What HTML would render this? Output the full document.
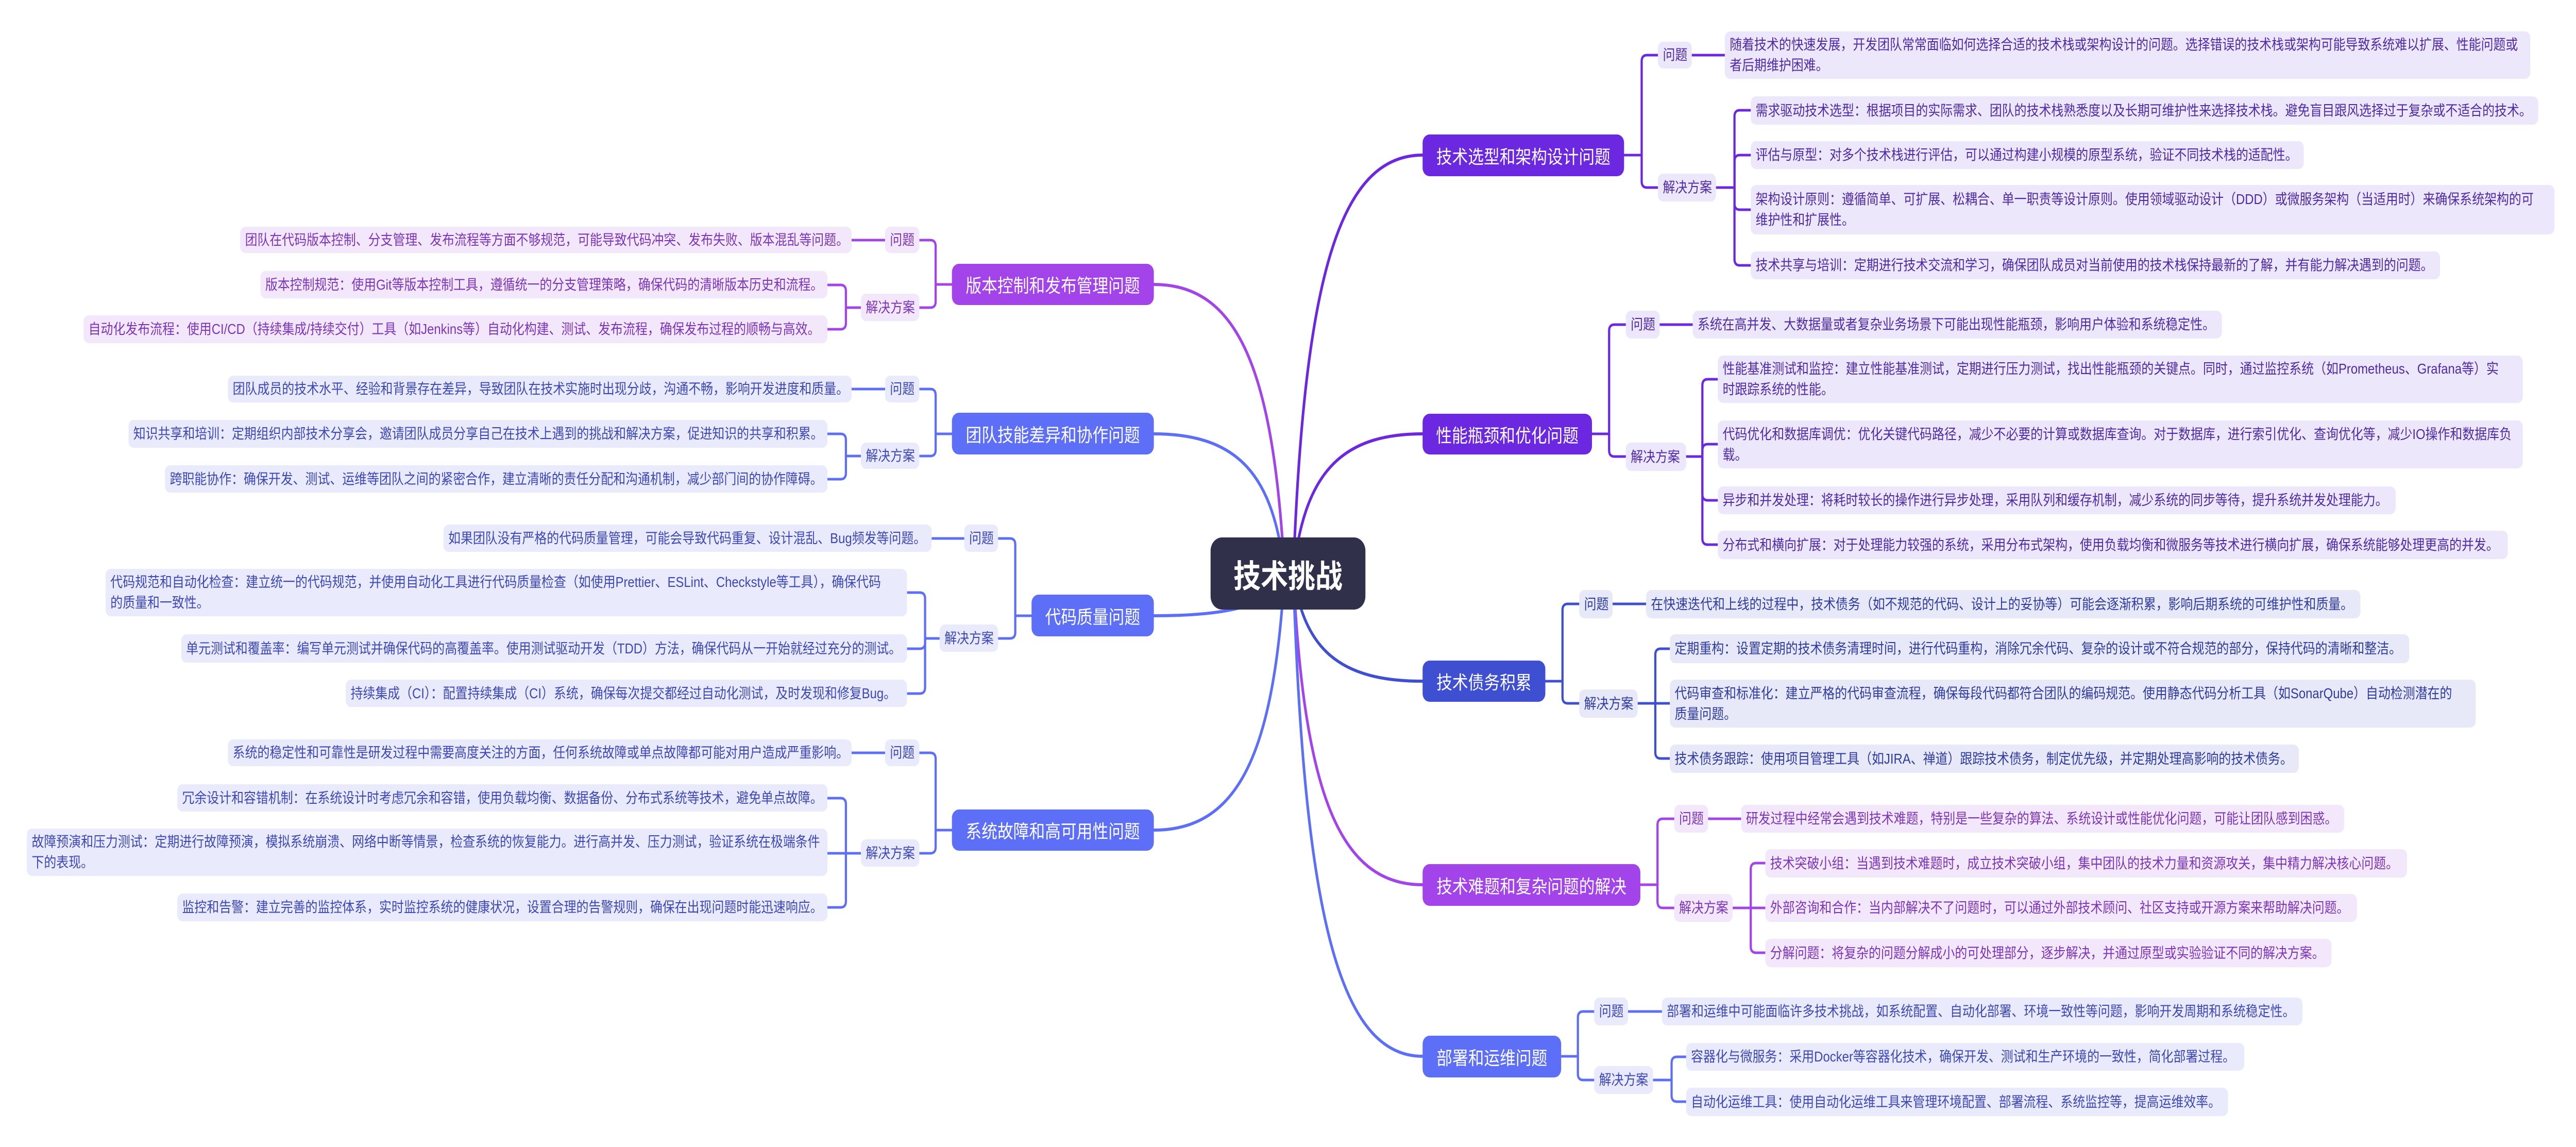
<!DOCTYPE html>
<html><head><meta charset="utf-8">
<style>
html,body{margin:0;padding:0;background:#fff;overflow:hidden;}
#w{position:absolute;left:0;top:0;width:5856px;height:2226px;transform-origin:0 0;font-family:"Liberation Sans","Noto Sans CJK SC",sans-serif;}
svg{position:absolute;left:0;top:0;}
.b{position:absolute;box-sizing:border-box;border-radius:12px;padding:0 11px;display:flex;align-items:center;white-space:nowrap;font-size:28px;line-height:40px;overflow:hidden;}
.n{position:absolute;box-sizing:border-box;border-radius:16px;display:flex;align-items:center;justify-content:center;white-space:nowrap;color:#fff;font-size:36px;}
.p{background:#ede7fc;color:#4f2aa6;}
.v{background:#f3e7fc;color:#7b35b8;}
.u{background:#e9ebfd;color:#3d47b5;}
.i{background:#e8e9f8;color:#2f3ba0;}
</style></head><body>
<div id="w">
<svg width="5856" height="2226" fill="none" stroke-linecap="round" stroke-linejoin="round">
<g stroke-width="6">
<path d="M2940 1113 C2964 544 3043 301 3234 301" stroke="#6b28e0"/>
<path d="M2940 1113 C2964 923 3043 842 3234 842" stroke="#6b28e0"/>
<path d="M2940 1113 C2964 1259 3043 1322 3234 1322" stroke="#3f4fd1"/>
<path d="M2940 1113 C2964 1536 3043 1717 3234 1717" stroke="#a244ea"/>
<path d="M2940 1113 C2964 1769 3043 2050 3234 2050" stroke="#5d6ff7"/>
<path d="M2920 1113 C2896 720 2816 552 2623 552" stroke="#a244ea"/>
<path d="M2920 1113 C2896 923 2816 842 2623 842" stroke="#5d6ff7"/>
<path d="M2920 1113 C2896 1170 2816 1195 2623 1195" stroke="#5d6ff7"/>
<path d="M2920 1113 C2896 1462 2816 1611 2623 1611" stroke="#5d6ff7"/>
</g>
<g stroke-width="5">
<g stroke="#6b28e0">
<path d="M3692 301 H3732 V119 Q3732 107 3744 107 H3769"/>
<path d="M3692 301 H3732 V352 Q3732 364 3744 364 H3769"/>
<path d="M3846 107 H3921"/>
<path d="M3901 364 H3943 V226 Q3943 214 3955 214 H3980"/>
<path d="M3901 364 H3943 V313 Q3943 301 3955 301 H3980"/>
<path d="M3901 364 H3943 V395 Q3943 407 3955 407 H3980"/>
<path d="M3901 364 H3943 V503 Q3943 515 3955 515 H3980"/>
</g>
<g stroke="#6b28e0">
<path d="M3619 842 H3658 V642 Q3658 630 3670 630 H3696"/>
<path d="M3619 842 H3658 V874 Q3658 886 3670 886 H3696"/>
<path d="M3773 630 H3848"/>
<path d="M3833 886 H3870 V748 Q3870 736 3882 736 H3905"/>
<path d="M3833 886 H3870 V874 Q3870 862 3882 862 H3905"/>
<path d="M3833 886 H3870 V959 Q3870 971 3882 971 H3905"/>
<path d="M3833 886 H3870 V1045 Q3870 1057 3882 1057 H3905"/>
</g>
<g stroke="#3f4fd1">
<path d="M3513 1322 H3552 V1184 Q3552 1172 3564 1172 H3590"/>
<path d="M3513 1322 H3552 V1353 Q3552 1365 3564 1365 H3590"/>
<path d="M3666 1172 H3742"/>
<path d="M3723 1365 H3763 V1271 Q3763 1259 3775 1259 H3796"/>
<path d="M3723 1365 H3796"/>
<path d="M3723 1365 H3763 V1460 Q3763 1472 3775 1472 H3796"/>
</g>
<g stroke="#a244ea">
<path d="M3729 1717 H3768 V1601 Q3768 1589 3780 1589 H3806"/>
<path d="M3729 1717 H3768 V1750 Q3768 1762 3780 1762 H3806"/>
<path d="M3883 1589 H3958"/>
<path d="M3939 1762 H3980 V1687 Q3980 1675 3992 1675 H4013"/>
<path d="M3939 1762 H4013"/>
<path d="M3939 1762 H3980 V1837 Q3980 1849 3992 1849 H4013"/>
</g>
<g stroke="#5d6ff7">
<path d="M3549 2050 H3587 V1975 Q3587 1963 3599 1963 H3624"/>
<path d="M3549 2050 H3587 V2084 Q3587 2096 3599 2096 H3624"/>
<path d="M3701 1963 H3778"/>
<path d="M3758 2096 H3800 V2063 Q3800 2051 3812 2051 H3833"/>
<path d="M3758 2096 H3800 V2126 Q3800 2138 3812 2138 H3833"/>
</g>
<g stroke="#a244ea">
<path d="M2164 552 H2127 V478 Q2127 466 2115 466 H2090"/>
<path d="M2164 552 H2127 V585 Q2127 597 2115 597 H2090"/>
<path d="M2012 466 H1936"/>
<path d="M1957 597 H1923 V565 Q1923 553 1911 553 H1881"/>
<path d="M1957 597 H1923 V627 Q1923 639 1911 639 H1881"/>
</g>
<g stroke="#5d6ff7">
<path d="M2164 842 H2127 V767 Q2127 755 2115 755 H2090"/>
<path d="M2164 842 H2127 V873 Q2127 885 2115 885 H2090"/>
<path d="M2012 755 H1936"/>
<path d="M1957 885 H1923 V854 Q1923 842 1911 842 H1881"/>
<path d="M1957 885 H1923 V918 Q1923 930 1911 930 H1881"/>
</g>
<g stroke="#5d6ff7">
<path d="M2345 1195 H2308 V1057 Q2308 1045 2296 1045 H2269"/>
<path d="M2345 1195 H2308 V1227 Q2308 1239 2296 1239 H2269"/>
<path d="M2192 1045 H2118"/>
<path d="M2136 1239 H2103 V1162 Q2103 1150 2091 1150 H2062"/>
<path d="M2136 1239 H2103 V1247 Q2103 1259 2091 1259 H2062"/>
<path d="M2136 1239 H2103 V1334 Q2103 1346 2091 1346 H2062"/>
</g>
<g stroke="#5d6ff7">
<path d="M2164 1611 H2127 V1473 Q2127 1461 2115 1461 H2090"/>
<path d="M2164 1611 H2127 V1644 Q2127 1656 2115 1656 H2090"/>
<path d="M2012 1461 H1936"/>
<path d="M1957 1656 H1923 V1561 Q1923 1549 1911 1549 H1881"/>
<path d="M1957 1656 H1881"/>
<path d="M1957 1656 H1923 V1749 Q1923 1761 1911 1761 H1881"/>
</g>
</g>
</svg>

<div class="n" style="left:2752px;top:1043px;width:352px;height:140px;background:#30304a;border-radius:26px;font-size:62px;font-weight:bold;">技术挑战</div>

<div class="n" style="left:3234px;top:261px;width:458px;height:81px;background:#6b28e0;">技术选型和架构设计问题</div>
<div class="b p" style="left:3769px;top:81px;width:77px;height:52px;">问题</div>
<div class="b p" style="left:3921px;top:61px;width:1831px;height:92px;">随着技术的快速发展，开发团队常常面临如何选择合适的技术栈或架构设计的问题。选择错误的技术栈或架构可能导致系统难以扩展、性能问题或<br>者后期维护困难。</div>
<div class="b p" style="left:3769px;top:337px;width:132px;height:54px;">解决方案</div>
<div class="b p" style="left:3980px;top:187px;width:1790px;height:55px;">需求驱动技术选型：根据项目的实际需求、团队的技术栈熟悉度以及长期可维护性来选择技术栈。避免盲目跟风选择过于复杂或不适合的技术。</div>
<div class="b p" style="left:3980px;top:274px;width:1257px;height:54px;">评估与原型：对多个技术栈进行评估，可以通过构建小规模的原型系统，验证不同技术栈的适配性。</div>
<div class="b p" style="left:3980px;top:359px;width:1827px;height:96px;">架构设计原则：遵循简单、可扩展、松耦合、单一职责等设计原则。使用领域驱动设计（DDD）或微服务架构（当适用时）来确保系统架构的可<br>维护性和扩展性。</div>
<div class="b p" style="left:3980px;top:488px;width:1567px;height:54px;">技术共享与培训：定期进行技术交流和学习，确保团队成员对当前使用的技术栈保持最新的了解，并有能力解决遇到的问题。</div>

<div class="n" style="left:3234px;top:803px;width:385px;height:79px;background:#6b28e0;">性能瓶颈和优化问题</div>
<div class="b p" style="left:3696px;top:603px;width:77px;height:54px;">问题</div>
<div class="b p" style="left:3848px;top:603px;width:1203px;height:54px;">系统在高并发、大数据量或者复杂业务场景下可能出现性能瓶颈，影响用户体验和系统稳定性。</div>
<div class="b p" style="left:3696px;top:859px;width:137px;height:55px;">解决方案</div>
<div class="b p" style="left:3905px;top:690px;width:1830px;height:92px;">性能基准测试和监控：建立性能基准测试，定期进行压力测试，找出性能瓶颈的关键点。同时，通过监控系统（如Prometheus、Grafana等）实<br>时跟踪系统的性能。</div>
<div class="b p" style="left:3905px;top:816px;width:1830px;height:93px;">代码优化和数据库调优：优化关键代码路径，减少不必要的计算或数据库查询。对于数据库，进行索引优化、查询优化等，减少IO操作和数据库负<br>载。</div>
<div class="b p" style="left:3905px;top:944px;width:1541px;height:54px;">异步和并发处理：将耗时较长的操作进行异步处理，采用队列和缓存机制，减少系统的同步等待，提升系统并发处理能力。</div>
<div class="b p" style="left:3905px;top:1030px;width:1796px;height:55px;">分布式和横向扩展：对于处理能力较强的系统，采用分布式架构，使用负载均衡和微服务等技术进行横向扩展，确保系统能够处理更高的并发。</div>

<div class="n" style="left:3234px;top:1282px;width:279px;height:80px;background:#3f4fd1;">技术债务积累</div>
<div class="b i" style="left:3590px;top:1145px;width:76px;height:55px;">问题</div>
<div class="b i" style="left:3742px;top:1145px;width:1624px;height:55px;">在快速迭代和上线的过程中，技术债务（如不规范的代码、设计上的妥协等）可能会逐渐积累，影响后期系统的可维护性和质量。</div>
<div class="b i" style="left:3590px;top:1338px;width:133px;height:55px;">解决方案</div>
<div class="b i" style="left:3796px;top:1231px;width:1681px;height:56px;">定期重构：设置定期的技术债务清理时间，进行代码重构，消除冗余代码、复杂的设计或不符合规范的部分，保持代码的清晰和整洁。</div>
<div class="b i" style="left:3796px;top:1319px;width:1832px;height:93px;">代码审查和标准化：建立严格的代码审查流程，确保每段代码都符合团队的编码规范。使用静态代码分析工具（如SonarQube）自动检测潜在的<br>质量问题。</div>
<div class="b i" style="left:3796px;top:1445px;width:1430px;height:55px;">技术债务跟踪：使用项目管理工具（如JIRA、禅道）跟踪技术债务，制定优先级，并定期处理高影响的技术债务。</div>

<div class="n" style="left:3234px;top:1677px;width:495px;height:81px;background:#a244ea;">技术难题和复杂问题的解决</div>
<div class="b v" style="left:3806px;top:1562px;width:77px;height:54px;">问题</div>
<div class="b v" style="left:3958px;top:1562px;width:1371px;height:54px;">研发过程中经常会遇到技术难题，特别是一些复杂的算法、系统设计或性能优化问题，可能让团队感到困惑。</div>
<div class="b v" style="left:3806px;top:1735px;width:133px;height:54px;">解决方案</div>
<div class="b v" style="left:4013px;top:1648px;width:1459px;height:55px;">技术突破小组：当遇到技术难题时，成立技术突破小组，集中团队的技术力量和资源攻关，集中精力解决核心问题。</div>
<div class="b v" style="left:4013px;top:1735px;width:1345px;height:54px;">外部咨询和合作：当内部解决不了问题时，可以通过外部技术顾问、社区支持或开源方案来帮助解决问题。</div>
<div class="b v" style="left:4013px;top:1822px;width:1287px;height:55px;">分解问题：将复杂的问题分解成小的可处理部分，逐步解决，并通过原型或实验验证不同的解决方案。</div>

<div class="n" style="left:3234px;top:2010px;width:315px;height:81px;background:#5d6ff7;">部署和运维问题</div>
<div class="b u" style="left:3624px;top:1936px;width:77px;height:54px;">问题</div>
<div class="b u" style="left:3778px;top:1936px;width:1456px;height:54px;">部署和运维中可能面临许多技术挑战，如系统配置、自动化部署、环境一致性等问题，影响开发周期和系统稳定性。</div>
<div class="b u" style="left:3624px;top:2069px;width:134px;height:54px;">解决方案</div>
<div class="b u" style="left:3833px;top:2024px;width:1269px;height:54px;">容器化与微服务：采用Docker等容器化技术，确保开发、测试和生产环境的一致性，简化部署过程。</div>
<div class="b u" style="left:3833px;top:2111px;width:1232px;height:55px;">自动化运维工具：使用自动化运维工具来管理环境配置、部署流程、系统监控等，提高运维效率。</div>

<div class="n" style="left:2164px;top:512px;width:459px;height:80px;background:#a244ea;">版本控制和发布管理问题</div>
<div class="b v" style="left:2012px;top:440px;width:78px;height:51px;">问题</div>
<div class="b v" style="left:546px;top:440px;width:1390px;height:51px;">团队在代码版本控制、分支管理、发布流程等方面不够规范，可能导致代码冲突、发布失败、版本混乱等问题。</div>
<div class="b v" style="left:1957px;top:570px;width:133px;height:53px;">解决方案</div>
<div class="b v" style="left:592px;top:526px;width:1289px;height:53px;">版本控制规范：使用Git等版本控制工具，遵循统一的分支管理策略，确保代码的清晰版本历史和流程。</div>
<div class="b v" style="left:190px;top:612px;width:1691px;height:54px;">自动化发布流程：使用CI/CD（持续集成/持续交付）工具（如Jenkins等）自动化构建、测试、发布流程，确保发布过程的顺畅与高效。</div>

<div class="n" style="left:2164px;top:801px;width:459px;height:81px;background:#5d6ff7;">团队技能差异和协作问题</div>
<div class="b u" style="left:2012px;top:729px;width:78px;height:52px;">问题</div>
<div class="b u" style="left:518px;top:729px;width:1418px;height:52px;">团队成员的技术水平、经验和背景存在差异，导致团队在技术实施时出现分歧，沟通不畅，影响开发进度和质量。</div>
<div class="b u" style="left:1957px;top:859px;width:133px;height:51px;">解决方案</div>
<div class="b u" style="left:292px;top:815px;width:1589px;height:54px;">知识共享和培训：定期组织内部技术分享会，邀请团队成员分享自己在技术上遇到的挑战和解决方案，促进知识的共享和积累。</div>
<div class="b u" style="left:375px;top:903px;width:1506px;height:53px;">跨职能协作：确保开发、测试、运维等团队之间的紧密合作，建立清晰的责任分配和沟通机制，减少部门间的协作障碍。</div>

<div class="n" style="left:2345px;top:1154px;width:278px;height:81px;background:#5d6ff7;">代码质量问题</div>
<div class="b u" style="left:2192px;top:1018px;width:77px;height:53px;">问题</div>
<div class="b u" style="left:1008px;top:1018px;width:1110px;height:53px;">如果团队没有严格的代码质量管理，可能会导致代码重复、设计混乱、Bug频发等问题。</div>
<div class="b u" style="left:2136px;top:1212px;width:133px;height:53px;">解决方案</div>
<div class="b u" style="left:240px;top:1104px;width:1822px;height:92px;">代码规范和自动化检查：建立统一的代码规范，并使用自动化工具进行代码质量检查（如使用Prettier、ESLint、Checkstyle等工具），确保代码<br>的质量和一致性。</div>
<div class="b u" style="left:412px;top:1231px;width:1650px;height:55px;">单元测试和覆盖率：编写单元测试并确保代码的高覆盖率。使用测试驱动开发（TDD）方法，确保代码从一开始就经过充分的测试。</div>
<div class="b u" style="left:786px;top:1319px;width:1276px;height:53px;">持续集成（CI）：配置持续集成（CI）系统，确保每次提交都经过自动化测试，及时发现和修复Bug。</div>

<div class="n" style="left:2164px;top:1571px;width:459px;height:80px;background:#5d6ff7;">系统故障和高可用性问题</div>
<div class="b u" style="left:2012px;top:1435px;width:78px;height:52px;">问题</div>
<div class="b u" style="left:518px;top:1435px;width:1418px;height:52px;">系统的稳定性和可靠性是研发过程中需要高度关注的方面，任何系统故障或单点故障都可能对用户造成严重影响。</div>
<div class="b u" style="left:1957px;top:1629px;width:133px;height:53px;">解决方案</div>
<div class="b u" style="left:403px;top:1522px;width:1478px;height:53px;">冗余设计和容错机制：在系统设计时考虑冗余和容错，使用负载均衡、数据备份、分布式系统等技术，避免单点故障。</div>
<div class="b u" style="left:61px;top:1608px;width:1820px;height:92px;">故障预演和压力测试：定期进行故障预演，模拟系统崩溃、网络中断等情景，检查系统的恢复能力。进行高并发、压力测试，验证系统在极端条件<br>下的表现。</div>
<div class="b u" style="left:403px;top:1734px;width:1478px;height:54px;">监控和告警：建立完善的监控体系，实时监控系统的健康状况，设置合理的告警规则，确保在出现问题时能迅速响应。</div>
</div>
<script>
(function(){
  var w=document.getElementById('w');
  var sx=(window.innerWidth||5856)/5856, sy=(window.innerHeight||2226)/2226;
  if(Math.abs(sx-1)>0.001||Math.abs(sy-1)>0.001){w.style.transform='scale('+sx+','+sy+')';}
})();
</script>
</body></html>
